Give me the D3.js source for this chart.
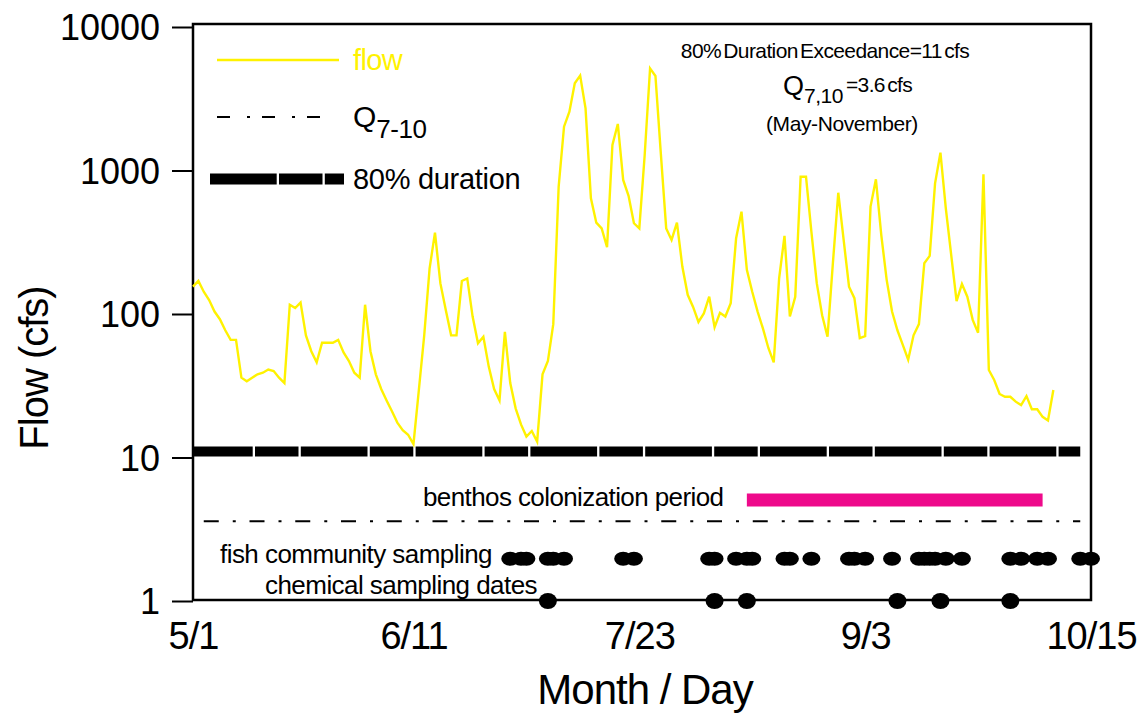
<!DOCTYPE html>
<html>
<head>
<meta charset="utf-8">
<script src="https://d3js.org/d3.v7.min.js"></script>
<style>
  body { margin: 0; background: #fff; }
  svg { font-family: "Liberation Sans", Arial, Helvetica, sans-serif; }
</style>
</head>
<body>
<svg id="chart" width="1146" height="715"></svg>
<script>
// daily flow (cfs) starting 5/1
var flowStart = "5/1";
var flowValues = [
  155, 170, 143, 125, 104, 92, 77, 66, 66, 36,
  34, 36, 38, 39, 41, 40, 36, 33, 116, 110,
  120, 71, 55, 46, 63, 63, 63, 66, 54, 47,
  39, 36, 116, 55, 38, 30, 25, 21, 17.5, 15.5,
  14.4, 12.4, 29.5, 71, 208, 369, 164, 107, 71, 71,
  170, 177, 96, 62.5, 69.5, 43, 30, 25, 75, 33,
  22, 17, 14, 15.3, 12.9, 38, 47, 85, 771, 2020,
  2570, 4050, 4580, 2710, 640, 433, 395, 292, 1505, 2110,
  859, 667, 429, 395, 1282, 5150, 4560, 1318, 395, 328,
  433, 214, 136, 112, 88, 101, 132, 81, 102, 96,
  119, 337, 516, 203, 143, 104, 79, 58, 46, 177,
  350, 96, 132, 905, 905, 375, 164, 98, 69.5, 226,
  700, 328, 155, 129, 68, 70, 560, 868, 355, 173,
  104, 77, 61, 48, 71, 85, 226, 254, 814, 1330,
  545, 258, 123, 162, 132, 91, 74, 941, 40.7, 34.7,
  27.7, 26.5, 26.5, 24.5, 23.2, 26.8, 21.7, 21.7, 19.2, 18.1,
  29.5
];

var fishDates = ["6/29", "7/1", "7/2", "7/6", "7/7", "7/9", "7/20", "7/22",
  "8/5", "8/6", "8/10", "8/12", "8/13", "8/19", "8/20", "8/24",
  "8/31", "9/1", "9/3", "9/8", "9/13", "9/14", "9/15", "9/16", "9/18", "9/21",
  "9/30", "10/2", "10/5", "10/7", "10/13", "10/15"];
var chemDates = ["7/6", "8/6", "8/12", "9/9", "9/17", "9/30"];
var benthosPeriod = ["8/12", "10/6"];

var durationFlow = 11;           // 80% duration exceedance
var durationRange = ["5/1", "10/13"];
var q710Flow = 3.6;              // Q7,10
var q710Range = ["5/3", "10/13"];
var fishLevel = 2, chemLevel = 1;

var xTicks = ["5/1", "6/11", "7/23", "9/3", "10/15"];
var yTicks = [1, 10, 100, 1000, 10000];

var year = 2001;
var parseDay = d3.timeParse("%m/%d/%Y");
function toDate(s) { return parseDay(s + "/" + year); }

var svg = d3.select("#chart");
var plotLeft = 193, plotRight = 1091, plotTop = 27, plotBottom = 601;

var x = d3.scaleTime()
    .domain([toDate("5/1"), toDate("10/15")])
    .range([plotLeft, plotRight]);
var y = d3.scaleLog()
    .domain([1, 10000])
    .range([plotBottom, plotTop]);

// frame
svg.append("rect")
    .attr("x", plotLeft).attr("y", plotTop - 3)
    .attr("width", plotRight - plotLeft).attr("height", plotBottom - 1 - (plotTop - 3))
    .attr("fill", "none").attr("stroke", "#000").attr("stroke-width", 2.5);

// y axis
var yAxis = svg.append("g")
    .attr("transform", "translate(" + plotLeft + ",0)")
    .call(d3.axisLeft(y).tickValues(yTicks).tickSize(21).tickPadding(12).tickFormat(d3.format("d")));
yAxis.select(".domain").remove();
yAxis.selectAll(".tick line").attr("stroke", "#000").attr("stroke-width", 2);
yAxis.selectAll(".tick text")
    .attr("font-size", 36).attr("font-family", null).attr("fill", "#000").attr("dy", "0.36em");

// x axis (labels only)
var xAxis = svg.append("g")
    .attr("transform", "translate(0," + plotBottom + ")")
    .call(d3.axisBottom(x).tickValues(xTicks.map(toDate)).tickSize(0).tickPadding(21)
        .tickFormat(d3.timeFormat("%-m/%-d")));
xAxis.select(".domain").remove();
xAxis.selectAll(".tick text")
    .attr("font-size", 38).attr("font-family", null).attr("fill", "#000")
    .style("letter-spacing", "-1px");

// axis titles
svg.append("text")
    .attr("x", 645).attr("y", 704)
    .attr("text-anchor", "middle")
    .attr("font-size", 42)
    .style("letter-spacing", "-1px")
    .text("Month / Day");
svg.append("text")
    .attr("transform", "translate(48,368) rotate(-90)")
    .attr("text-anchor", "middle")
    .attr("font-size", 40)
    .style("letter-spacing", "-1px")
    .text("Flow (cfs)");

// 80% duration line
svg.append("line")
    .attr("x1", x(toDate(durationRange[0]))).attr("x2", x(toDate(durationRange[1])))
    .attr("y1", y(durationFlow)).attr("y2", y(durationFlow))
    .attr("stroke", "#000").attr("stroke-width", 10)
    .attr("stroke-dasharray", "66.7,2.3,43.5,2.3").attr("stroke-dashoffset", 7);

// Q7-10 line
svg.append("line")
    .attr("x1", x(toDate(q710Range[0]))).attr("x2", x(toDate(q710Range[1])))
    .attr("y1", y(q710Flow)).attr("y2", y(q710Flow))
    .attr("stroke", "#000").attr("stroke-width", 2)
    .attr("stroke-dasharray", "15,14,3,13.75");

// benthos colonization period
svg.append("line")
    .attr("x1", x(toDate(benthosPeriod[0]))).attr("x2", x(toDate(benthosPeriod[1])))
    .attr("y1", 500).attr("y2", 500)
    .attr("stroke", "#ee0a8b").attr("stroke-width", 13);

// flow line
var flowData = flowValues.map(function(v, i) {
  return { date: d3.timeDay.offset(toDate(flowStart), i), value: v };
});
var line = d3.line()
    .x(function(d) { return x(d.date); })
    .y(function(d) { return y(d.value); });
svg.append("path")
    .datum(flowData)
    .attr("d", line)
    .attr("fill", "none")
    .attr("stroke", "#fff200")
    .attr("stroke-width", 2.4)
    .attr("stroke-linejoin", "miter");

// sampling markers
svg.selectAll(".fish")
    .data(fishDates)
    .enter().append("ellipse")
    .classed("fish", true)
    .attr("cx", function(d) { return x(toDate(d)); })
    .attr("cy", y(fishLevel) + 1)
    .attr("rx", 9).attr("ry", 7)
    .attr("fill", "#000");
svg.selectAll(".chem")
    .data(chemDates)
    .enter().append("ellipse")
    .classed("chem", true)
    .attr("cx", function(d) { return x(toDate(d)); })
    .attr("cy", y(chemLevel))
    .attr("rx", 9).attr("ry", 8)
    .attr("fill", "#000");

// text labels in the lower band
svg.append("text")
    .attr("x", 423).attr("y", 506)
    .attr("font-size", 26).style("letter-spacing", "-0.6px")
    .text("benthos colonization period");
svg.append("text")
    .attr("x", 220).attr("y", 563)
    .attr("font-size", 26).style("letter-spacing", "-0.55px")
    .text("fish community sampling");
svg.append("text")
    .attr("x", 265).attr("y", 594)
    .attr("font-size", 26).style("letter-spacing", "-0.55px")
    .text("chemical sampling dates");

// legend
var legend = svg.append("g");
legend.append("line")
    .attr("x1", 217).attr("x2", 339).attr("y1", 60).attr("y2", 60)
    .attr("stroke", "#fff200").attr("stroke-width", 2.4);
legend.append("text")
    .attr("x", 353).attr("y", 70).attr("font-size", 29)
    .attr("fill", "#fff200").style("letter-spacing", "-0.6px")
    .text("flow");

legend.append("line")
    .attr("x1", 217).attr("x2", 323).attr("y1", 117).attr("y2", 117)
    .attr("stroke", "#000").attr("stroke-width", 2)
    .attr("stroke-dasharray", "13,17,3,12");
var qText = legend.append("text")
    .attr("x", 353).attr("y", 127).attr("font-size", 30);
qText.append("tspan").text("Q");
qText.append("tspan").attr("dy", 11).attr("font-size", 26).style("letter-spacing", "-0.5px").text("7-10");

legend.append("line")
    .attr("x1", 210).attr("x2", 344).attr("y1", 179).attr("y2", 179)
    .attr("stroke", "#000").attr("stroke-width", 11)
    .attr("stroke-dasharray", "66.7,2.3,43.5,2.3");
legend.append("text")
    .attr("x", 353).attr("y", 189).attr("font-size", 29)
    .style("letter-spacing", "-0.3px")
    .text("80% duration");

// annotation
svg.append("text")
    .attr("x", 825).attr("y", 58).attr("text-anchor", "middle")
    .attr("font-size", 21).style("letter-spacing", "-0.6px").style("word-spacing", "-3px")
    .text("80% Duration Exceedance=11 cfs");
var q2 = svg.append("text")
    .attr("x", 783).attr("y", 95).attr("font-size", 27);
q2.append("tspan").text("Q");
q2.append("tspan").attr("dy", 8).attr("font-size", 21).style("letter-spacing", "-0.5px").text("7,10");
q2.append("tspan").attr("dy", -11).attr("dx", 3).attr("font-size", 21)
    .style("letter-spacing", "-0.6px").style("word-spacing", "-3px").text("=3.6 cfs");
svg.append("text")
    .attr("x", 842).attr("y", 131).attr("text-anchor", "middle")
    .attr("font-size", 21).style("letter-spacing", "-0.4px")
    .text("(May-November)");
</script>
</body>
</html>
